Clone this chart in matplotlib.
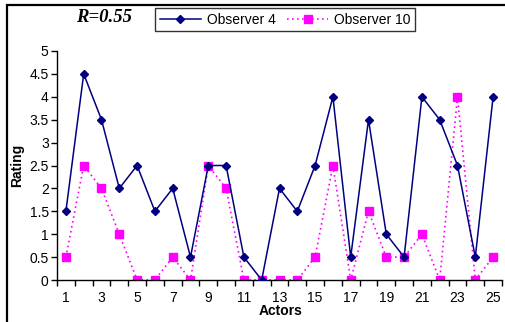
import matplotlib.pyplot as plt
from matplotlib.patches import Rectangle
from matplotlib.lines import Line2D
import numpy as np

# ratings per actor for the two observers
actors = list(range(1, 26))
observer4 = [1.5, 4.5, 3.5, 2, 2.5, 1.5, 2, 0.5, 2.5, 2.5, 0.5, 0, 2,
             1.5, 2.5, 4, 0.5, 3.5, 1, 0.5, 4, 3.5, 2.5, 0.5, 4]
observer10 = [0.5, 2.5, 2, 1, 0, 0, 0.5, 0, 2.5, 2, 0, 0, 0,
              0, 0.5, 2.5, 0, 1.5, 0.5, 0.5, 1, 0, 4, 0, 0.5]
y_ticks = [0, 0.5, 1, 1.5, 2, 2.5, 3, 3.5, 4, 4.5, 5]
y_labels = ["0", "0.5", "1", "1.5", "2", "2.5", "3", "3.5", "4", "4.5", "5"]

plt.rcParams['font.family'] = ['Liberation Sans', 'DejaVu Sans']

fig = plt.figure(figsize=(5.06, 3.22), dpi=100)
ax = fig.add_axes([57/506, 1 - 280/322, (502 - 57)/506, (280 - 51)/322])

ax.plot(actors, observer4, color='#000080', marker='D', markersize=4, lw=1.1,
        label='Observer 4', zorder=3)
ax.plot(actors, observer10, color='#FF00FF', marker='s', markersize=6, lw=1.2,
        linestyle=(0, (1, 2)), label='Observer 10', zorder=2)

ax.set_xlim(0.5, 25.5)
ax.set_ylim(0, 5)
ax.set_yticks(y_ticks)
ax.set_yticklabels(y_labels)
ax.set_xticks(actors[::2])
ax.set_xticks(np.arange(0.5, 26, 1), minor=True)
ax.tick_params(axis='x', which='major', length=0, labelsize=10, pad=8)
ax.tick_params(axis='x', which='minor', length=4, direction='out', width=1)
ax.tick_params(axis='y', length=4, direction='out', width=1, labelsize=10, pad=2)

for s in ['top', 'right']:
    ax.spines[s].set_visible(False)
ax.spines['left'].set_linewidth(1)
ax.spines['bottom'].set_linewidth(1)
for s in ax.spines.values():
    s.set_clip_on(False)

ax.set_ylabel('Rating', fontweight='bold', fontsize=10, labelpad=4)
fig.text(281/506, 1 - 311/322, 'Actors', fontweight='bold', fontsize=10,
         ha='center', va='center')

fig.text(104/506, 1 - 18/322, 'R=0.55', fontweight='bold', style='italic',
         family=['Liberation Serif', 'DejaVu Serif'], fontsize=13.5,
         ha='center', va='center')

h4 = Line2D([], [], color='#000080', marker='D', markersize=4, lw=1.1)
h10 = Line2D([], [], color='#FF00FF', marker='s', markersize=6, lw=1.2,
             linestyle=(0, (1, 2)))
leg = fig.legend([h4, h10], ['Observer 4', 'Observer 10'], ncol=2,
                 loc='center', bbox_to_anchor=(285/506, 1 - 19.5/322),
                 frameon=True, fancybox=False, edgecolor='black', fontsize=10,
                 handlelength=3.0, handletextpad=0.4, columnspacing=0.8,
                 borderpad=0.3)
leg.get_frame().set_linewidth(1)

# outer chart frame
fig.patches.append(Rectangle((7/506, -0.1), 1.2, 1 - 5/322 + 0.1,
                             transform=fig.transFigure, fill=False,
                             edgecolor='black', lw=1.6))

fig.savefig('out.png', dpi=100)
